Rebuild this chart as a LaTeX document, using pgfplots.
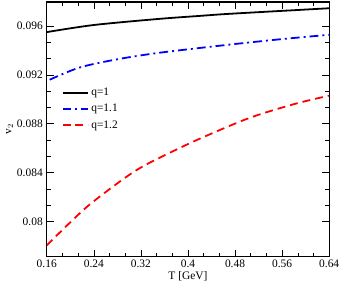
\documentclass[border=0pt]{standalone}
\usepackage{fontspec}
\setmainfont{Liberation Serif}
\usepackage{pgfplots}
\pgfplotsset{compat=1.18}
\begin{document}
\fontsize{11.5}{13}\selectfont
\begin{tikzpicture}
\begin{axis}[
  scale only axis,
  width=284pt, height=256pt,
  xmin=0.16, xmax=0.64,
  ymin=0.07715, ymax=0.09795,
  scaled y ticks=false, scaled x ticks=false,
  xtick={0.16,0.24,0.32,0.4,0.48,0.56,0.64},
  xticklabels={0.16,0.24,0.32,0.4,0.48,0.56,0.64},
  ytick={0.08,0.084,0.088,0.092,0.096},
  yticklabels={0.08,0.084,0.088,0.092,0.096},
  minor x tick num=2, minor y tick num=2,
  tick align=inside,
  major tick length=7pt, minor tick length=4pt,
  every tick/.style={black, line width=0.6pt},
  axis line style={line width=1.1pt},
  tick label style={font=\fontsize{11.5}{13}\selectfont},
  xticklabel style={yshift=1pt},
  xlabel={T [GeV]}, ylabel={v$_2$},
  label style={font=\fontsize{11.5}{13}\selectfont},
  xlabel style={yshift=4pt},
  ylabel style={yshift=-4pt},
  legend style={draw=none, fill=none, inner sep=0pt, at={(axis cs:0.185,0.0911)}, anchor=north west, font=\fontsize{11.5}{13}\selectfont, row sep=3pt},
  legend cell align=left,
  legend image code/.code={\draw[#1] (0pt,0pt) -- (26pt,0pt);},
]
\addplot[black, line width=1.8pt, smooth] coordinates {
(0.16,0.09549) (0.24,0.09607) (0.351,0.09657) (0.419,0.09681) (0.469,0.09698) (0.588,0.0973) (0.64,0.09744)};
\addlegendentry{q=1}
\addplot[blue, line width=1.8pt, smooth, dash pattern=on 9pt off 4pt on 2pt off 4pt] coordinates {
(0.165,0.0916) (0.216,0.0926) (0.28,0.09327) (0.351,0.0938) (0.469,0.09446) (0.56,0.09492) (0.64,0.09527)};
\addlegendentry{q=1.1}
\addplot[red, line width=1.8pt, smooth, dash pattern=on 8pt off 5pt] coordinates {
(0.16,0.07807) (0.2,0.07995) (0.238,0.0816) (0.312,0.0842) (0.385,0.0860) (0.44,0.0872) (0.508,0.08854) (0.582,0.08963) (0.64,0.0903)};
\addlegendentry{q=1.2}
\end{axis}
\path (current axis.south west) ++(-47pt,-30pt);
\path (current axis.north east) ++(12pt,2pt);
\end{tikzpicture}
\end{document}
